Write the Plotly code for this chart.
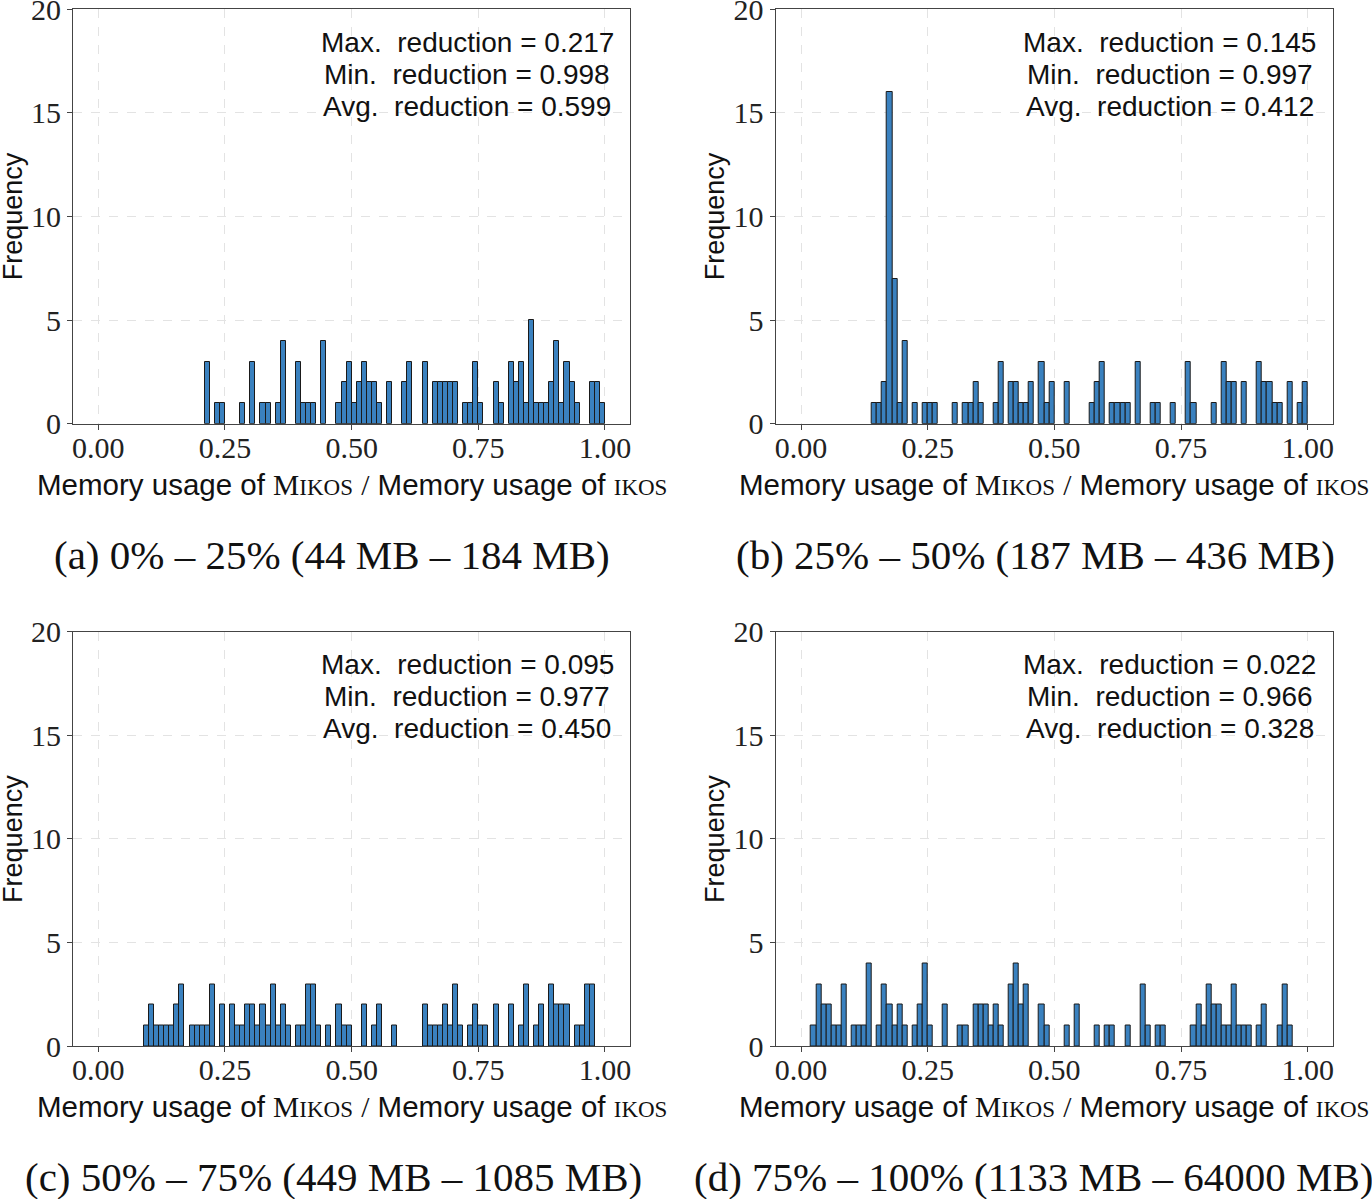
import plotly.graph_objects as go

# histogram bins (left edge of each 0.01-wide bin) and counts
a_left = [0.21, 0.23, 0.24, 0.28, 0.30, 0.32, 0.33, 0.35, 0.36, 0.39, 0.40, 0.41, 0.42, 0.44, 0.47,
          0.48, 0.49, 0.50, 0.51, 0.52, 0.53, 0.54, 0.55, 0.57, 0.60, 0.61, 0.64, 0.66, 0.67, 0.68,
          0.69, 0.70, 0.72, 0.73, 0.74, 0.75, 0.78, 0.79, 0.81, 0.82, 0.83, 0.84, 0.85, 0.86, 0.87,
          0.88, 0.89, 0.90, 0.91, 0.92, 0.93, 0.94, 0.97, 0.98, 0.99]
a_count = [3, 1, 1, 1, 3, 1, 1, 1, 4, 3, 1, 1, 1, 4, 1,
           2, 3, 1, 2, 3, 2, 2, 1, 2, 2, 3, 3, 2, 2, 2,
           2, 2, 1, 1, 3, 1, 2, 1, 3, 2, 3, 1, 5, 1, 1,
           1, 2, 4, 1, 3, 2, 1, 2, 2, 1]

b_left = [0.14, 0.15, 0.16, 0.17, 0.18, 0.19, 0.20, 0.22, 0.24, 0.25, 0.26, 0.30, 0.32, 0.33, 0.34,
          0.35, 0.38, 0.39, 0.41, 0.42, 0.43, 0.44, 0.45, 0.47, 0.48, 0.49, 0.52, 0.57, 0.58, 0.59,
          0.61, 0.62, 0.63, 0.64, 0.66, 0.69, 0.70, 0.73, 0.76, 0.77, 0.81, 0.83, 0.84, 0.85, 0.87,
          0.90, 0.91, 0.92, 0.93, 0.94, 0.96, 0.98, 0.99]
b_count = [1, 1, 2, 16, 7, 1, 4, 1, 1, 1, 1, 1, 1, 1, 2,
           1, 1, 3, 2, 2, 1, 1, 2, 3, 1, 2, 2, 1, 2, 3,
           1, 1, 1, 1, 3, 1, 1, 1, 3, 1, 1, 3, 2, 2, 2,
           3, 2, 2, 1, 1, 2, 1, 2]

c_left = [0.09, 0.10, 0.11, 0.12, 0.13, 0.14, 0.15, 0.16, 0.18, 0.19, 0.20, 0.21, 0.22, 0.24, 0.26,
          0.27, 0.28, 0.29, 0.30, 0.31, 0.32, 0.33, 0.34, 0.35, 0.36, 0.37, 0.39, 0.40, 0.41, 0.42,
          0.43, 0.45, 0.47, 0.48, 0.49, 0.52, 0.54, 0.55, 0.58, 0.64, 0.65, 0.66, 0.67, 0.68, 0.69,
          0.70, 0.71, 0.73, 0.74, 0.75, 0.76, 0.78, 0.81, 0.83, 0.84, 0.86, 0.87, 0.89, 0.90, 0.91,
          0.92, 0.94, 0.95, 0.96, 0.97]
c_count = [1, 2, 1, 1, 1, 1, 2, 3, 1, 1, 1, 1, 3, 2, 2,
           1, 1, 2, 2, 1, 2, 1, 3, 1, 2, 1, 1, 1, 3, 3,
           1, 1, 2, 1, 1, 2, 1, 2, 1, 2, 1, 1, 1, 2, 1,
           3, 1, 1, 2, 1, 1, 2, 2, 1, 3, 1, 2, 3, 2, 2,
           2, 1, 1, 3, 3]

d_left = [0.02, 0.03, 0.04, 0.05, 0.06, 0.07, 0.08, 0.10, 0.11, 0.12, 0.13, 0.15, 0.16, 0.17, 0.18,
          0.19, 0.20, 0.22, 0.23, 0.24, 0.25, 0.28, 0.31, 0.32, 0.34, 0.35, 0.36, 0.37, 0.38, 0.39,
          0.41, 0.42, 0.43, 0.44, 0.47, 0.48, 0.52, 0.54, 0.58, 0.60, 0.61, 0.64, 0.67, 0.68, 0.70,
          0.71, 0.77, 0.78, 0.79, 0.80, 0.81, 0.82, 0.83, 0.84, 0.85, 0.86, 0.87, 0.88, 0.90, 0.91,
          0.94, 0.95, 0.96]
d_count = [1, 3, 2, 2, 1, 1, 3, 1, 1, 1, 4, 1, 3, 2, 1,
           2, 1, 1, 2, 4, 1, 2, 1, 1, 2, 2, 2, 1, 2, 1,
           3, 4, 2, 3, 2, 1, 1, 2, 1, 1, 1, 1, 3, 1, 1,
           1, 1, 2, 1, 3, 2, 2, 1, 1, 3, 1, 1, 1, 1, 2,
           1, 3, 1]

bin_width = 0.01
max_red = ["0.217", "0.145", "0.095", "0.022"]
min_red = ["0.998", "0.997", "0.977", "0.966"]
avg_red = ["0.599", "0.412", "0.450", "0.328"]
captions = ["(a) 0% – 25% (44 MB – 184 MB)", "(b) 25% – 50% (187 MB – 436 MB)",
            "(c) 50% – 75% (449 MB – 1085 MB)", "(d) 75% – 100% (1133 MB – 64000 MB)"]
x_ticks = [0, 0.25, 0.5, 0.75, 1.0]
x_ticktext = ["0.00", "0.25", "0.50", "0.75", "1.00"]
y_ticks = [0, 5, 10, 15, 20]

W, H = 1372, 1199
SANS = "Liberation Sans"
SERIF = "Liberation Serif"
BAR_COLOR = "#3a81bf"

panels = [(a_left, a_count), (b_left, b_count), (c_left, c_count), (d_left, d_count)]
# pixel boxes of each axes (left, right, top, bottom)
boxes = [(73, 630.3, 9, 423.7), (775.7, 1333, 9, 423.7),
         (73, 630.3, 631.5, 1046.3), (775.7, 1333, 631.5, 1046.3)]
caption_x = [332, 1035, 333, 1034]
caption_y = [555, 555, 1177, 1177]
xtitle_y = [484, 484, 1106, 1106]
ytitle_x = [13, 715, 13, 715]

fig = go.Figure()
annotations = []
for i, (left, count) in enumerate(panels):
    n = "" if i == 0 else str(i + 1)
    fig.add_trace(go.Bar(
        x=[v + bin_width / 2 for v in left], y=count, width=bin_width,
        marker=dict(color=BAR_COLOR, line=dict(color="#1a1a1a", width=1)),
        xaxis="x" + n, yaxis="y" + n, showlegend=False))

    l, r, t, b = boxes[i]
    axis_common = dict(showline=True, linecolor="#444", linewidth=1.2, mirror=True,
                       ticks="outside", ticklen=5, tickcolor="#444", automargin=False,
                       ticklabeloverflow="allow",
                       showgrid=True, gridcolor="#e3e3e3", griddash="dash", gridwidth=1,
                       zeroline=False, tickfont=dict(family=SERIF, size=30, color="#222"))
    fig.update_layout({
        "xaxis" + n: dict(domain=[l / W, r / W], range=[-0.05, 1.05], anchor="y" + n,
                          tickvals=x_ticks, ticktext=x_ticktext, ticklabelstandoff=-8, **axis_common),
        "yaxis" + n: dict(domain=[1 - b / H, 1 - t / H], range=[0, 20], anchor="x" + n,
                          tickvals=y_ticks, ticklabelstandoff=0, **axis_common),
    })

    # stats text in the top right
    for j, line in enumerate([f"Max.\u00a0 reduction = {max_red[i]}",
                              f"Min.\u00a0 reduction = {min_red[i]}",
                              f"Avg.\u00a0 reduction = {avg_red[i]}"]):
        annotations.append(dict(text=line, xref=f"x{n} domain", yref=f"y{n} domain",
                                x=0.707, y=0.920 - j * 0.077, xanchor="center", yanchor="middle",
                                showarrow=False, font=dict(family=SANS, size=28, color="#111")))

    # x axis title with small caps names
    sc = f"<span style='font-family:{SERIF}'>M<span style='font-size:23px'>IKOS</span></span>"
    sc2 = f"<span style='font-family:{SERIF}'><span style='font-size:23px'>IKOS</span></span>"
    annotations.append(dict(text=f"Memory usage of {sc} <span style='font-family:{SERIF}'>/</span> Memory usage of {sc2}",
                            xref="paper", yref="paper", x=(l + r) / 2 / W, y=1 - xtitle_y[i] / H,
                            xanchor="center", yanchor="middle", showarrow=False,
                            font=dict(family=SANS, size=29.5, color="#111")))
    annotations.append(dict(text="Frequency", xref="paper", yref="paper",
                            x=ytitle_x[i] / W, y=1 - (t + b) / 2 / H, textangle=-90,
                            xanchor="center", yanchor="middle", showarrow=False,
                            font=dict(family=SANS, size=27, color="#111")))
    annotations.append(dict(text=captions[i], xref="paper", yref="paper",
                            x=caption_x[i] / W, y=1 - caption_y[i] / H,
                            xanchor="center", yanchor="middle", showarrow=False,
                            font=dict(family=SERIF, size=41, color="#111")))

fig.update_layout(width=W, height=H, margin=dict(l=0, r=0, t=0, b=0),
                  paper_bgcolor="white", plot_bgcolor="white",
                  annotations=annotations, bargap=0)

# drop the default page margin so the figure sits at the window's top-left corner
fig.write_html("out.html", config={"displayModeBar": False},
               post_script="document.body.style.margin='0px';")
